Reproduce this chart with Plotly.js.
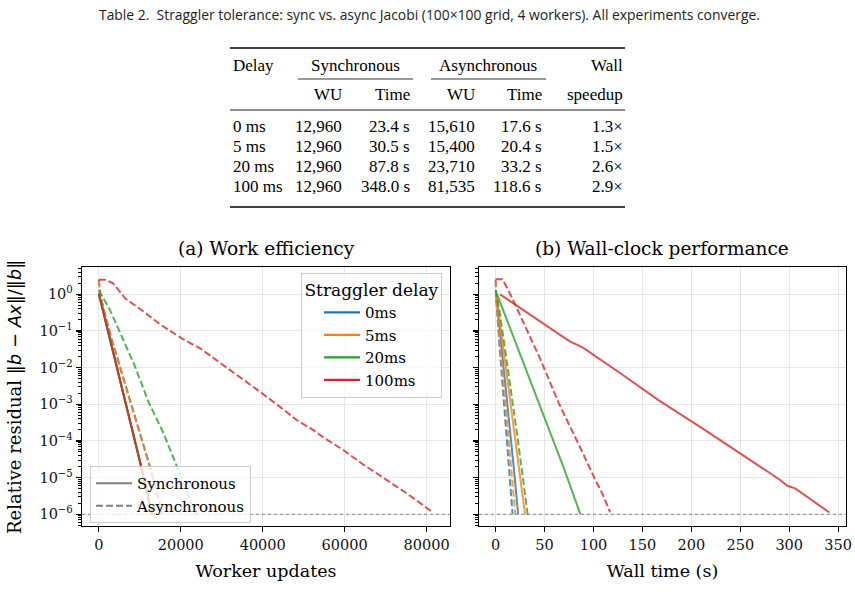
<!DOCTYPE html>
<html><head><meta charset="utf-8">
<script src="https://cdn.plot.ly/plotly-3.0.1.min.js"></script>
<style>html,body{margin:0;padding:0;background:#fff}#chart{width:855px;height:613px}</style>
</head><body><div id="chart"></div>
<script>
// Straggler delays and their colours
const delays = ['0ms', '5ms', '20ms', '100ms'];
const colors = ['#1f77b4', '#ff7f0e', '#2ca02c', '#d62728'];
const modes = ['Synchronous', 'Asynchronous'];

// Table 2: straggler tolerance summary
const tableDelay = ['0 ms', '5 ms', '20 ms', '100 ms'];
const tableSyncWU = [12960, 12960, 12960, 12960];
const tableSyncTime = [23.4, 30.5, 87.8, 348.0];
const tableAsyncWU = [15610, 15400, 23710, 81535];
const tableAsyncTime = [17.6, 20.4, 33.2, 118.6];
const tableSpeedup = [1.3, 1.5, 2.6, 2.9];

// Synchronous Jacobi: the same work for every delay
const syncWu = [0, 2600, 5200, 7800, 10400, 12960];
const syncRes = [1.05, 0.07, 4.6e-3, 3.0e-4, 1.9e-5, 1.0e-6];
const syncTime0 = [0.4, 5.0, 9.5, 14.0, 18.5, 23.0];
const syncTime5 = [0.5, 6.4, 12.3, 18.2, 24.1, 30.0];
const syncTime20 = [1.2, 18.2, 35.2, 52.2, 69.4, 86.6];
const syncTime100 = [4.5, 40, 76, 84, 90, 130, 166, 212, 250, 290, 298, 306, 341];
const syncRes100 = [1.0, 0.23, 0.051, 0.041, 0.034, 6.3e-3, 1.32e-3, 2.14e-4, 4.5e-5, 8.9e-6, 6.0e-6, 5.1e-6, 1.12e-6];

// Asynchronous Jacobi
const asyncWu0 = [0, 400, 3000, 6000, 9000, 12500, 15610];
const asyncTime0 = [0, 0.45, 3.3, 6.6, 9.9, 13.8, 17.3];
const asyncRes0 = [2.5, 0.9, 0.068, 5.1e-3, 3.8e-4, 2.0e-5, 1.0e-6];

const asyncWu5 = [0, 400, 3000, 6000, 9000, 12400, 15400];
const asyncTime5 = [0, 0.5, 3.9, 7.8, 11.7, 16.2, 20.1];
const asyncRes5 = [2.4, 0.85, 0.065, 5.0e-3, 3.6e-4, 2.0e-5, 1.0e-6];

const asyncWu20 = [0, 1400, 2760, 5800, 8850, 12100, 15760, 19420, 23710];
const asyncTime20 = [0, 1.9, 3.8, 8.0, 12.2, 16.7, 21.7, 26.8, 32.7];
const asyncRes20 = [1.3, 0.7, 0.37, 0.063, 0.0107, 1.17e-3, 1.66e-4, 1.6e-5, 1.0e-6];

const asyncWu100 = [0, 1500, 3500, 6400, 10900, 15000, 20200, 25000, 29200, 34000, 39800, 44000, 48300, 52300, 55200, 59700, 64000, 70200, 75000, 81535];
const asyncRes100 = [2.5, 2.5, 2.0, 0.78, 0.34, 0.15, 0.063, 0.032, 0.0145, 6.0e-3, 2.0e-3, 8.9e-4, 3.7e-4, 2.0e-4, 1.17e-4, 5.6e-5, 2.5e-5, 8.7e-6, 3.8e-6, 1.12e-6];
const asyncTime100 = [0, 7, 17, 30, 46, 64.5, 78, 88.4, 100.2, 110, 117];
const asyncRes100t = [2.57, 2.57, 0.78, 0.135, 0.0162, 1.07e-3, 2.0e-4, 5.1e-5, 1.07e-5, 3.2e-6, 1.12e-6];

// Convergence tolerance
const tolerance = 1e-6;

// Axis ticks
const wuTickVals = [0, 20000, 40000, 60000, 80000];
const wuTickText = ['0', '20000', '40000', '60000', '80000'];
const timeTickVals = [0, 50, 100, 150, 200, 250, 300, 350];
const timeTickText = ['0', '50', '100', '150', '200', '250', '300', '350'];
const resTickVals = [1, 1e-1, 1e-2, 1e-3, 1e-4, 1e-5, 1e-6];
const resTickText = ['10<sup>0</sup>', '10<sup>\u22121</sup>', '10<sup>\u22122</sup>', '10<sup>\u22123</sup>',
                     '10<sup>\u22124</sup>', '10<sup>\u22125</sup>', '10<sup>\u22126</sup>'];

const W = 855, H = 613;
const px = v => v / W;
const py = v => 1 - v / H;
const SERIF = 'DejaVu Serif';
const TABLE_FONT = 'Liberation Serif';

const syncTimes = [syncTime0, syncTime5, syncTime20, syncTime100];
const syncResT = [syncRes, syncRes, syncRes, syncRes100];
const asyncWus = [asyncWu0, asyncWu5, asyncWu20, asyncWu100];
const asyncResW = [asyncRes0, asyncRes5, asyncRes20, asyncRes100];
const asyncTimes = [asyncTime0, asyncTime5, asyncTime20, asyncTime100];
const asyncResT = [asyncRes0, asyncRes5, asyncRes20, asyncRes100t];

const traces = [];
const DASH = '7px,3px';
delays.forEach((d, i) => {
  const base = {type: 'scatter', mode: 'lines', opacity: 0.8, showlegend: false, hoverinfo: 'skip'};
  traces.push(Object.assign({}, base, {x: syncWu, y: syncRes, xaxis: 'x', yaxis: 'y',
    line: {color: colors[i], width: 2}}));
  traces.push(Object.assign({}, base, {x: asyncWus[i], y: asyncResW[i], xaxis: 'x', yaxis: 'y',
    line: {color: colors[i], width: 2, dash: DASH}}));
  traces.push(Object.assign({}, base, {x: syncTimes[i], y: syncResT[i], xaxis: 'x2', yaxis: 'y2',
    line: {color: colors[i], width: 2}}));
  traces.push(Object.assign({}, base, {x: asyncTimes[i], y: asyncResT[i], xaxis: 'x2', yaxis: 'y2',
    line: {color: colors[i], width: 2, dash: DASH}}));
});

// Legend entries: delay colours
delays.forEach((d, i) => {
  traces.push({type: 'scatter', mode: 'lines', x: [null], y: [null], xaxis: 'x', yaxis: 'y',
    name: d, legend: 'legend', line: {color: colors[i], width: 2.2}});
});
// Legend entries: line styles
modes.forEach((m, k) => {
  traces.push({type: 'scatter', mode: 'lines', x: [null], y: [null], xaxis: 'x', yaxis: 'y',
    name: m, legend: 'legend2', line: {color: '#808080', width: 2.2, dash: k ? DASH : 'solid'}});
});

// Minor ticks 2..9 in every decade
const minorVals = [];
for (let e = -7; e <= 0; e++) for (let k = 2; k <= 9; k++) minorVals.push(k * Math.pow(10, e));

const xCommon = {
  ticks: 'outside', ticklen: 5, tickwidth: 1.2, tickcolor: '#000',
  showline: true, linecolor: '#000', linewidth: 1.3, mirror: true,
  showgrid: true, gridcolor: '#e6e6e6', gridwidth: 1, zeroline: false,
  tickfont: {family: SERIF, size: 14.5, color: '#111'}, tickmode: 'array'
};
const yCommon = Object.assign({}, xCommon, {
  type: 'log', range: [-6.32, 0.745], tickvals: resTickVals, ticktext: resTickText,
  minor: {tickvals: minorVals, ticks: 'outside', ticklen: 2.5, tickwidth: 1, tickcolor: '#000', showgrid: false}
});

const annotations = [];
const shapes = [];
function txt(text, x, y, opts) {
  annotations.push(Object.assign({text: text, x: px(x), y: py(y), xref: 'paper', yref: 'paper',
    showarrow: false, xanchor: 'center', yanchor: 'middle',
    font: {family: TABLE_FONT, size: 17, color: '#000'}}, opts || {}));
}
function rule(x0, x1, y, w) {
  shapes.push({type: 'line', xref: 'paper', yref: 'paper', x0: px(x0), x1: px(x1), y0: py(y), y1: py(y),
    line: {color: '#000', width: w}});
}

// Caption
txt('Table 2.\u00a0\u00a0Straggler tolerance: sync vs. async Jacobi (100\u00d7100 grid, 4 workers). All experiments converge.',
    429, 14, {font: {family: 'Open Sans', size: 13.9, color: '#222'}});

// Table rules
rule(230, 625, 48, 1.4);
rule(298, 413, 79, 0.8);
rule(431, 546, 79, 0.8);
rule(230, 625, 110, 0.9);
rule(230, 625, 207, 1.4);

// Table header
txt('Delay', 231, 65, {xanchor: 'left'});
txt('Synchronous', 355, 65);
txt('Asynchronous', 488, 65);
txt('Wall', 625, 65, {xanchor: 'right'});
txt('WU', 344, 95, {xanchor: 'right'});
txt('Time', 412, 95, {xanchor: 'right'});
txt('WU', 477, 95, {xanchor: 'right'});
txt('Time', 544, 95, {xanchor: 'right'});
txt('speedup', 625, 95, {xanchor: 'right'});

// Table body
const rowY = [127, 147, 166.5, 186.5];
const fmtInt = v => v.toLocaleString('en-US');
tableDelay.forEach((d, i) => {
  const y = rowY[i];
  txt(d, 231, y, {xanchor: 'left'});
  txt(fmtInt(tableSyncWU[i]), 344, y, {xanchor: 'right'});
  txt(tableSyncTime[i].toFixed(1) + ' s', 412, y, {xanchor: 'right'});
  txt(fmtInt(tableAsyncWU[i]), 477, y, {xanchor: 'right'});
  txt(tableAsyncTime[i].toFixed(1) + ' s', 544, y, {xanchor: 'right'});
  txt(tableSpeedup[i].toFixed(1) + '\u00d7', 625, y, {xanchor: 'right'});
});

// Panel titles
txt('(a) Work efficiency', 266, 248, {font: {family: SERIF, size: 18.5, color: '#000'}});
txt('(b) Wall-clock performance', 662, 248, {font: {family: SERIF, size: 18.5, color: '#000'}});

// Shared y label
txt('Relative residual <span style="font-family:\'DejaVu Sans\'">\u2016<i>b</i> \u2212 <i>Ax</i>\u2016/\u2016<i>b</i>\u2016</span>',
    15, 397, {textangle: -90, font: {family: SERIF, size: 18, color: '#000'}});

// Tolerance line in both panels
['y', 'y2'].forEach((ya, k) => {
  shapes.push({type: 'line', xref: (k ? 'x2' : 'x') + ' domain', yref: ya, x0: 0, x1: 1,
    y0: tolerance, y1: tolerance, line: {color: '#777', width: 0.9, dash: 'dot'}, layer: 'above'});
});

const legendFont = {family: SERIF, size: 15, color: '#000'};
const layout = {
  width: W, height: H, margin: {l: 0, r: 0, t: 0, b: 0},
  paper_bgcolor: '#fff', plot_bgcolor: '#fff',
  font: {family: SERIF, color: '#000'},
  xaxis: Object.assign({}, xCommon, {domain: [px(82), px(450)], anchor: 'y', range: [-4100, 85700],
    tickvals: wuTickVals, ticktext: wuTickText,
    title: {text: 'Worker updates', font: {family: SERIF, size: 17.5, color: '#000'}, standoff: 13}}),
  yaxis: Object.assign({}, yCommon, {domain: [py(526), py(267)], anchor: 'x'}),
  xaxis2: Object.assign({}, xCommon, {domain: [px(479), px(846)], anchor: 'y2', range: [-17, 358],
    tickvals: timeTickVals, ticktext: timeTickText,
    title: {text: 'Wall time (s)', font: {family: SERIF, size: 17.5, color: '#000'}, standoff: 13}}),
  yaxis2: Object.assign({}, yCommon, {domain: [py(526), py(267)], anchor: 'x2', showticklabels: false}),
  legend: {x: px(442), xanchor: 'right', y: py(273), yanchor: 'top', indentation: 17, itemwidth: 36,
    bgcolor: 'rgba(255,255,255,0.8)', bordercolor: '#cccccc', borderwidth: 1,
    font: legendFont,
    title: {text: 'Straggler delay', side: 'top center', font: {family: SERIF, size: 17, color: '#000'}}},
  legend2: {x: px(90), xanchor: 'left', y: py(466), yanchor: 'top', itemwidth: 36,
    bgcolor: 'rgba(255,255,255,0.8)', bordercolor: '#cccccc', borderwidth: 1,
    font: legendFont},
  annotations: annotations,
  shapes: shapes,
  showlegend: true
};

Plotly.newPlot('chart', traces, layout, {staticPlot: true, displayModeBar: false});
</script>
</body></html>
